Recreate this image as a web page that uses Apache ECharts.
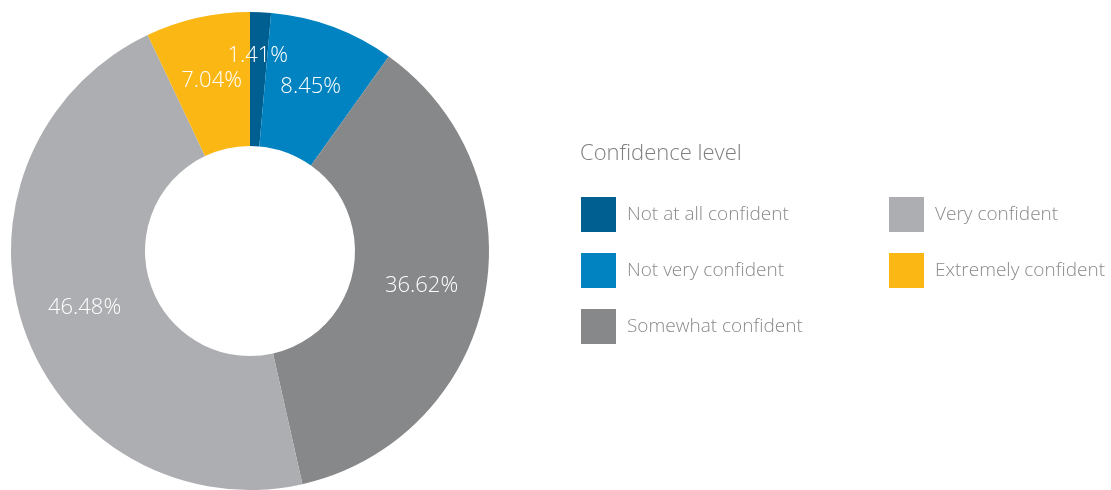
<!DOCTYPE html>
<html>
<head>
<meta charset="utf-8">
<script src="https://cdn.jsdelivr.net/npm/echarts@6/dist/echarts.min.js"></script>
<style>
  html, body { margin: 0; padding: 0; background: #fff; }
  #chart { width: 1111px; height: 490px; }
</style>
</head>
<body>
<div id="chart"></div>
<script>
var categories = ['Not at all confident', 'Not very confident', 'Somewhat confident', 'Very confident', 'Extremely confident']
var values = [1.41, 8.45, 36.62, 46.48, 7.04]
var colors = ['#005f91', '#0083c0', '#878889', '#adaeb1', '#fbb714']
var legendTitle = 'Confidence level'

var chart = echarts.init(document.getElementById('chart'))
var fontFamily = '"Open Sans", Lato, sans-serif'

var data = categories.map(function (name, i) {
  return { name: name, value: values[i], itemStyle: { color: colors[i] } }
})

var legendText = {
  fontFamily: fontFamily,
  fontSize: 19,
  fontWeight: 300,
  color: '#8a8a8a',
  padding: [0, 0, 0, 6]
}

chart.setOption({
  backgroundColor: '#fff',
  animation: false,
  title: {
    text: legendTitle,
    left: 580,
    top: 143,
    padding: 0,
    textStyle: {
      fontFamily: fontFamily,
      fontSize: 22,
      fontWeight: 300,
      color: '#7f7f7f'
    }
  },
  legend: [{
    data: categories.slice(0, 3),
    orient: 'vertical',
    left: 581,
    top: 197,
    padding: 0,
    icon: 'rect',
    itemWidth: 35,
    itemHeight: 35,
    itemGap: 21,
    selectedMode: false,
    textStyle: legendText
  }, {
    data: categories.slice(3),
    orient: 'vertical',
    left: 889,
    top: 197,
    padding: 0,
    icon: 'rect',
    itemWidth: 35,
    itemHeight: 35,
    itemGap: 21,
    selectedMode: false,
    textStyle: legendText
  }],
  series: [{
    type: 'pie',
    center: [250, 251],
    radius: [105, 239],
    startAngle: 90,
    clockwise: true,
    avoidLabelOverlap: false,
    label: {
      show: true,
      position: 'inside',
      formatter: function (p) { return p.value.toFixed(2) + '%' },
      fontFamily: fontFamily,
      fontSize: 22,
      fontWeight: 300,
      color: '#fff'
    },
    labelLine: { show: false },
    labelLayout: function (p) {
      // the smallest slice's label sits further out
      if (p.dataIndex === 0) return { dy: -20 }
      return {}
    },
    emphasis: { disabled: true },
    data: data
  }]
})
</script>
</body>
</html>
